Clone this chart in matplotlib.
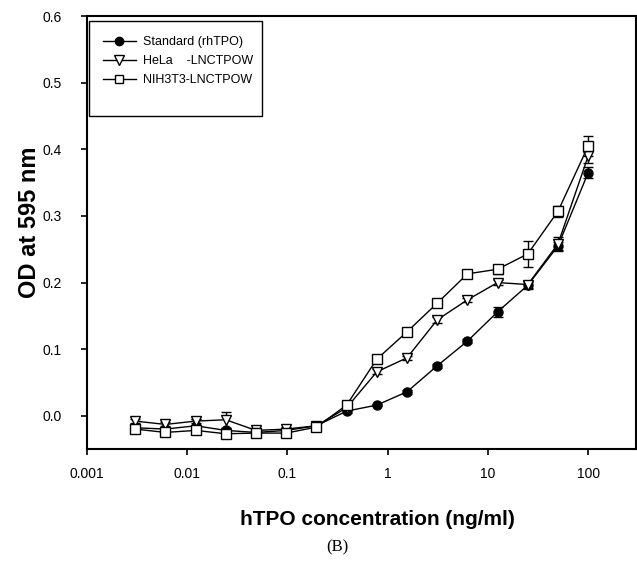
import matplotlib
matplotlib.use("Agg")
import matplotlib.pyplot as plt
from matplotlib.lines import Line2D
from matplotlib.patches import Rectangle

# hTPO dose series, 2-fold dilutions from 100 ng/ml
conc = [100 / 2 ** k for k in range(16)][::-1]

standard = [-0.018, -0.020, -0.015, -0.022, -0.025, -0.022, -0.015, 0.007,
            0.016, 0.036, 0.075, 0.112, 0.156, 0.196, 0.255, 0.365]
standard_err = [0.003, 0.003, 0.010, 0.003, 0.003, 0.003, 0.003, 0.003,
                0.002, 0.003, 0.003, 0.003, 0.007, 0.005, 0.006, 0.008]

hela = [-0.008, -0.013, -0.008, -0.006, -0.022, -0.020, -0.015, 0.012,
        0.066, 0.087, 0.144, 0.174, 0.200, 0.197, 0.258, 0.390]
hela_err = [0.003, 0.003, 0.003, 0.012, 0.003, 0.003, 0.003, 0.003,
            0.004, 0.003, 0.004, 0.003, 0.004, 0.005, 0.010, 0.010]

nih = [-0.020, -0.025, -0.022, -0.027, -0.026, -0.026, -0.017, 0.016,
       0.085, 0.126, 0.169, 0.213, 0.220, 0.243, 0.307, 0.405]
nih_err = [0.003, 0.003, 0.003, 0.003, 0.003, 0.003, 0.003, 0.003,
           0.004, 0.003, 0.005, 0.004, 0.007, 0.020, 0.008, 0.015]

labels = ["Standard (rhTPO)", "HeLa    -LNCTPOW", "NIH3T3-LNCTPOW"]
markers = ["o", "v", "s"]
faces = ["black", "white", "white"]
x_ticks = [0.001, 0.01, 0.1, 1, 10, 100]
x_ticklabels = ["0.001", "0.01", "0.1", "1", "10", "100"]
y_ticks = [0.0, 0.1, 0.2, 0.3, 0.4, 0.5, 0.6]

plt.rcParams["font.family"] = ["Liberation Sans", "DejaVu Sans"]

fig = plt.figure(figsize=(6.37, 5.75), dpi=100)
ax = fig.add_axes([0.136, 0.219, 0.8625, 0.753])

common = dict(color="black", lw=1.0, capsize=3.5, elinewidth=1.0, capthick=1.0)
series = [(standard, standard_err), (hela, hela_err), (nih, nih_err)]
for (vals, errs), m, fc in zip(series, markers, faces):
    ax.errorbar(conc, vals, yerr=errs, marker=m, ms=6.5 if m != "v" else 7,
                mfc=fc, mec="black", **common)

ax.set_xscale("log")
ax.set_xlim(0.001, 300)
ax.set_ylim(-0.05, 0.6)
ax.set_xticks(x_ticks)
ax.set_xticklabels(x_ticklabels)
ax.minorticks_off()
ax.set_yticks(y_ticks)
ax.set_yticklabels([f"{v:.1f}" for v in y_ticks])
ax.tick_params(axis="x", direction="out", length=4, width=1.2, labelsize=10, pad=9)
ax.tick_params(axis="y", direction="out", length=4, width=1.2, labelsize=10, pad=14)
for s in ax.spines.values():
    s.set_linewidth(1.5)

fig.text(0.047, 0.614, "OD at 595 nm", fontsize=17, fontweight="bold",
         rotation=90, ha="center", va="center")
fig.text(0.592, 0.097, "hTPO concentration (ng/ml)", fontsize=15,
         fontweight="bold", ha="center", va="center")
fig.text(0.53, 0.048, "(B)", fontsize=12, family="Liberation Serif",
         ha="center", va="center")

handles = [Line2D([], [], color="black", lw=1.0, marker=m, ms=6 if m != "v" else 6.5,
                  mfc=fc, mec="black") for m, fc in zip(markers, faces)]
ax.legend(handles, labels, loc="upper left", bbox_to_anchor=(0.005, 0.985),
          frameon=False, fontsize=9, handlelength=2.6, handletextpad=0.6,
          labelspacing=0.55, borderpad=0.6)
ax.add_patch(Rectangle((0.004, 0.769), 0.315, 0.219, transform=ax.transAxes,
                       fill=False, lw=1.0, ec="black"))

fig.savefig("out.png", dpi=100)
